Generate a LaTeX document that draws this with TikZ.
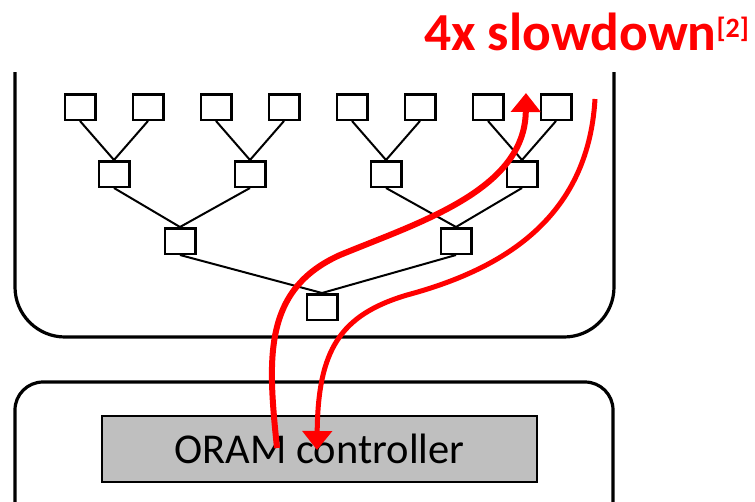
\documentclass[tikz,border=0pt]{standalone}
\usepackage{fontspec}
\setmainfont{Carlito}
\usetikzlibrary{arrows.meta}
\definecolor{ctrlgray}{RGB}{191,191,191}
\definecolor{pathred}{RGB}{255,0,0}
\begin{document}
\begin{tikzpicture}[x=1pt,y=-1pt,
  tbox/.style={draw,line width=2.5pt,minimum width=30.5pt,minimum height=25.5pt,inner sep=0pt},
  tedge/.style={line width=2pt},
  frame/.style={line width=3.2pt},
  redpath/.style={draw=pathred,line width=#1,-{Triangle[length=19pt,width=29pt]}},
]
\useasboundingbox (0,0) rectangle (755,501);
% frames
\draw[frame,rounded corners=50pt] (15,72) -- (15,337) -- (614,337) -- (614,72);
\draw[frame,rounded corners=28pt] (15,510) -- (15,382) -- (613,382) -- (613,510);
% tree nodes
\foreach \i/\x in {1/80,2/148,3/216,4/284,5/352,6/420,7/488,8/556}
  \node[tbox] (l\i) at (\x,107) {};
\foreach \i/\x in {1/114,2/250,3/386,4/522}
  \node[tbox] (m\i) at (\x,174) {};
\node[tbox] (n1) at (180,241) {};
\node[tbox] (n2) at (456,241) {};
\node[tbox] (root) at (322,307) {};
% tree edges
\foreach \c/\p in {l1/m1,l2/m1,l3/m2,l4/m2,l5/m3,l6/m3,l7/m4,l8/m4,m1/n1,m2/n1,m3/n2,m4/n2,n1/root,n2/root}
  \draw[tedge] (\c.south) -- (\p.north);
% controller
\node[draw,fill=ctrlgray,line width=2.5pt,minimum width=435pt,minimum height=66pt,inner sep=0pt,
  font=\fontsize{42.5}{42.5}\selectfont] (ctrl) at (319.5,449) {ORAM controller};
% title
\node[anchor=base west,text=pathred,inner sep=0pt,font=\bfseries\fontsize{53.5}{53.5}\selectfont] (title) at (424,50)
  {4x slowdown\raisebox{13pt}{\fontsize{28}{28}\selectfont[2]}};
% red paths
\coordinate (up0) at (277,448);
\coordinate (up1) at (526,93);
\coordinate (dn0) at (595,99);
\coordinate (dn1) at (317,450);
\draw[redpath=6pt] (up0) .. controls (268,360) and (262,290) .. (340,255)
  .. controls (420,222) and (525,190) .. (up1);
\draw[redpath=5pt] (dn0) .. controls (588,220) and (500,270) .. (407,295)
  .. controls (340,315) and (318,350) .. (dn1);
\end{tikzpicture}
\end{document}
